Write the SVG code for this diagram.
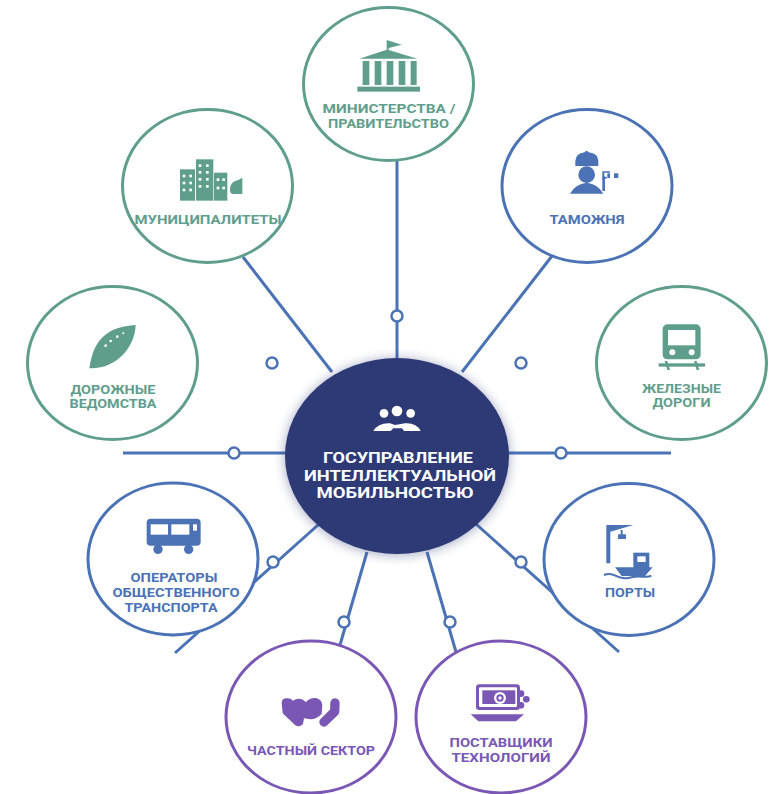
<svg xmlns="http://www.w3.org/2000/svg" width="775" height="794" viewBox="0 0 775 794">
<style>
text{font-family:"Roboto","Open Sans","Liberation Sans",sans-serif;font-weight:700;font-size:12.5px;text-anchor:middle}
.ring{fill:#fff;stroke-width:3}
.teal .ring{stroke:#5f9e8c}.teal text{fill:#5f9e8c}.teal .ic{fill:#5f9e8c}
.blue .ring{stroke:#4a72b5}.blue text{fill:#4a72b5}.blue .ic{fill:#4a72b5}
.purple .ring{stroke:#7a57b5}.purple text{fill:#7a57b5}.purple .ic{fill:#7a57b5}
.w{fill:#fff}
#node-center text{fill:#fff;font-size:14.8px}
.line{stroke:#4a72b5;stroke-width:3;fill:none}
.dot{fill:#fff;stroke:#4a72b5;stroke-width:2.5}
</style>
<defs><filter id="sh" x="-20%" y="-20%" width="140%" height="140%"><feGaussianBlur stdDeviation="6"/></filter></defs>
<g id="connectors">
<line class="line" x1="397" y1="160" x2="397" y2="362"/>
<line class="line" x1="243" y1="257" x2="332" y2="372"/>
<line class="line" x1="552" y1="256" x2="462" y2="372"/>
<line class="line" x1="123" y1="453" x2="292" y2="453"/>
<line class="line" x1="503" y1="453" x2="671" y2="453"/>
<line class="line" x1="318" y1="525" x2="175" y2="653"/>
<line class="line" x1="476" y1="524" x2="619" y2="652"/>
<line class="line" x1="367" y1="552" x2="340" y2="645"/>
<line class="line" x1="427" y1="552" x2="456" y2="652"/>
<circle class="dot" cx="397" cy="316" r="5.5"/>
<circle class="dot" cx="272" cy="363" r="5.5"/>
<circle class="dot" cx="521" cy="363" r="5.5"/>
<circle class="dot" cx="234" cy="453" r="5.5"/>
<circle class="dot" cx="561" cy="453" r="5.5"/>
<circle class="dot" cx="273" cy="562" r="5.5"/>
<circle class="dot" cx="521" cy="562" r="5.5"/>
<circle class="dot" cx="344" cy="622" r="5.5"/>
<circle class="dot" cx="450" cy="622" r="5.5"/>
</g>
<g id="node-ministry" class="teal">
<ellipse class="ring" cx="388.5" cy="84" rx="85" ry="76.5"/>
<g class="ic" transform="translate(290 0) scale(.3333)">
<rect x="202" y="260" width="188" height="15"/>
<path d="M208 176L290 149V120L335 134L296 144V150L382 176Z"/>
<rect x="218" y="183" width="20" height="72"/><rect x="254" y="183" width="20" height="72"/><rect x="290" y="183" width="20" height="72"/><rect x="326" y="183" width="20" height="72"/><rect x="362" y="183" width="18" height="72"/>
</g>
<text x="389" y="113" textLength="133" lengthAdjust="spacingAndGlyphs">МИНИСТЕРСТВА /</text>
<text x="388.5" y="128" textLength="121" lengthAdjust="spacingAndGlyphs">ПРАВИТЕЛЬСТВО</text>
</g>
<g id="node-municipal" class="teal">
<ellipse class="ring" cx="207.5" cy="186" rx="85" ry="76.5"/>
<g transform="translate(110 100) scale(.3333)">
<g class="ic"><rect x="210" y="208" width="45" height="94"/><rect x="258" y="178" width="52" height="124"/><rect x="312" y="218" width="40" height="84"/>
<path d="M360 270Q358 245 385 240L397 233V282H370Q360 282 360 270Z"/></g>
<g class="w">
<rect x="218" y="224" width="8" height="8"/><rect x="238" y="224" width="8" height="8"/><rect x="218" y="245" width="8" height="8"/><rect x="238" y="245" width="8" height="8"/><rect x="218" y="266" width="8" height="8"/><rect x="238" y="266" width="8" height="8"/>
<rect x="266" y="193" width="8" height="8"/><rect x="288" y="193" width="8" height="8"/><rect x="266" y="213" width="8" height="8"/><rect x="288" y="213" width="8" height="8"/><rect x="266" y="234" width="8" height="8"/><rect x="288" y="234" width="8" height="8"/><rect x="266" y="255" width="8" height="8"/><rect x="288" y="255" width="8" height="8"/>
<rect x="320" y="235" width="8" height="8"/><rect x="337" y="235" width="8" height="8"/><rect x="320" y="260" width="8" height="8"/><rect x="337" y="260" width="8" height="8"/>
</g></g>
<text x="208" y="224" textLength="147" lengthAdjust="spacingAndGlyphs">МУНИЦИПАЛИТЕТЫ</text>
</g>
<g id="node-customs" class="blue">
<ellipse class="ring" cx="587" cy="186" rx="85" ry="76.5"/>
<g class="ic" transform="translate(490 100) scale(.3333)">
<path d="M256 198V182Q258 160 284 157Q290 147 296 157Q324 160 325 182V198Z"/>
<circle cx="290" cy="224" r="25"/>
<path d="M240 281Q255 252 290 248Q325 252 340 281Z"/>
<rect x="337" y="230" width="8" height="43"/>
<path d="M337 214H360V218H343V230H350V236H337Z"/>
<rect x="352" y="220" width="8" height="14"/>
<rect x="372" y="220" width="13" height="14"/>
</g>
<text x="587" y="224" textLength="75" lengthAdjust="spacingAndGlyphs">ТАМОЖНЯ</text>
</g>
<g id="node-road" class="teal">
<ellipse class="ring" cx="112.5" cy="363" rx="85" ry="76.5"/>
<g transform="translate(20 280) scale(.3333)">
<path class="ic" d="M208 265C220 180 260 140 347 135C345 200 290 268 208 265Z"/>
<g class="w"><circle cx="257" cy="197" r="4"/><circle cx="272" cy="183" r="4"/><circle cx="292" cy="170" r="4"/><circle cx="310" cy="160" r="3"/></g>
</g>
<text x="113" y="393.5" textLength="85" lengthAdjust="spacingAndGlyphs">ДОРОЖНЫЕ</text>
<text x="113" y="408" textLength="87" lengthAdjust="spacingAndGlyphs">ВЕДОМСТВА</text>
</g>
<g id="node-rail" class="teal">
<ellipse class="ring" cx="681.5" cy="363" rx="85" ry="76.5"/>
<g transform="translate(590 280) scale(.3333)">
<g class="ic"><rect x="218" y="133" width="114" height="105" rx="14"/><rect x="206" y="250" width="139" height="10"/>
<path d="M224 243L232 243L240 270L232 270Z M312 243L320 243L328 270L320 270Z"/></g>
<rect class="w" x="234" y="150" width="82" height="46"/>
<circle class="w" cx="247" cy="217" r="9"/><circle class="w" cx="305" cy="217" r="9"/>
</g>
<text x="681.5" y="392.5" textLength="79" lengthAdjust="spacingAndGlyphs">ЖЕЛЕЗНЫЕ</text>
<text x="681.5" y="407" textLength="58" lengthAdjust="spacingAndGlyphs">ДОРОГИ</text>
</g>
<g id="node-operators" class="blue">
<ellipse class="ring" cx="173" cy="559" rx="85" ry="76"/>
<g transform="translate(80 480) scale(.3333)">
<g class="ic"><rect x="200" y="116" width="162" height="81" rx="12"/><circle cx="234" cy="208" r="14"/><circle cx="326" cy="208" r="14"/></g>
<rect class="w" x="212" y="133" width="52" height="31"/><rect class="w" x="274" y="133" width="54" height="31"/><rect class="w" x="339" y="133" width="12" height="19"/>
</g>
<text x="174" y="581.5" textLength="87" lengthAdjust="spacingAndGlyphs">ОПЕРАТОРЫ</text>
<text x="176" y="596.5" textLength="127" lengthAdjust="spacingAndGlyphs">ОБЩЕСТВЕННОГО</text>
<text x="171" y="611.5" textLength="93" lengthAdjust="spacingAndGlyphs">ТРАНСПОРТА</text>
</g>
<g id="node-ports" class="blue">
<ellipse class="ring" cx="629" cy="559.5" rx="85" ry="76"/>
<g transform="translate(530 480) scale(.3333)">
<g class="ic"><path d="M229 135H310L241 155V250H229Z"/><rect x="272" y="150" width="6" height="15"/><rect x="264" y="163" width="24" height="14"/>
<rect x="310" y="218" width="48" height="46"/><path d="M255 262H368L345 288H275Z"/></g>
<rect class="w" x="322" y="229" width="25" height="17"/>
<path d="M222 285Q240 278 258 288T298 293T338 290T364 287" fill="none" stroke="#4a72b5" stroke-width="6"/>
</g>
<text x="630" y="596.5" textLength="50" lengthAdjust="spacingAndGlyphs">ПОРТЫ</text>
</g>
<g id="node-private" class="purple">
<ellipse class="ring" cx="311" cy="717" rx="85" ry="76"/>
<g transform="translate(220 630) scale(.3333)">
<path class="ic" d="M185 218Q186 205 200 205Q212 204 219 212Q232 203 246 208L258 216Q270 202 288 204Q306 208 307 225L305 252Q290 268 270 268L252 265L249 282Q238 294 225 285L188 250Z"/>
<path d="M345 219L344 245L312 276" fill="none" stroke="#7a57b5" stroke-width="28" stroke-linecap="round" stroke-linejoin="round"/>
</g>
<text x="311" y="755" textLength="128" lengthAdjust="spacingAndGlyphs">ЧАСТНЫЙ СЕКТОР</text>
</g>
<g id="node-tech" class="purple">
<ellipse class="ring" cx="501" cy="717" rx="85" ry="76"/>
<g transform="translate(410 630) scale(.3333)">
<g class="ic"><circle cx="333" cy="191" r="10"/><circle cx="349" cy="208" r="10"/><circle cx="333" cy="226" r="10"/><rect x="198" y="163" width="132" height="77" rx="10"/><path d="M182 253H342L318 274H205Z"/></g>
<rect class="w" x="207" y="172" width="114" height="59" rx="4"/>
<rect class="ic" x="217" y="181" width="99" height="41"/>
<circle class="w" cx="270" cy="204" r="18"/><circle class="ic" cx="270" cy="204" r="11"/><circle class="w" cx="270" cy="204" r="5"/>
</g>
<text x="501" y="747" textLength="103" lengthAdjust="spacingAndGlyphs">ПОСТАВЩИКИ</text>
<text x="501" y="761.5" textLength="99" lengthAdjust="spacingAndGlyphs">ТЕХНОЛОГИЙ</text>
</g>
<g id="node-center">
<ellipse cx="397" cy="457" rx="112" ry="98" fill="#2d3a75" opacity=".45" filter="url(#sh)"/>
<ellipse cx="397" cy="456" rx="112" ry="98" fill="#2d3a75"/>
<g class="w" transform="translate(280 360) scale(.3333)">
<circle cx="312" cy="160" r="13"/><circle cx="351" cy="153" r="16"/><circle cx="392" cy="160" r="13"/>
<path d="M280 213Q295 188 330 190L345 195L375 190Q410 188 422 213H372L366 205H340L332 213Z"/>
</g>
<text x="398" y="463" textLength="150" lengthAdjust="spacingAndGlyphs">ГОСУПРАВЛЕНИЕ</text>
<text x="400" y="480.5" textLength="192" lengthAdjust="spacingAndGlyphs">ИНТЕЛЛЕКТУАЛЬНОЙ</text>
<text x="395" y="498" textLength="157" lengthAdjust="spacingAndGlyphs">МОБИЛЬНОСТЬЮ</text>
</g>
</svg>
